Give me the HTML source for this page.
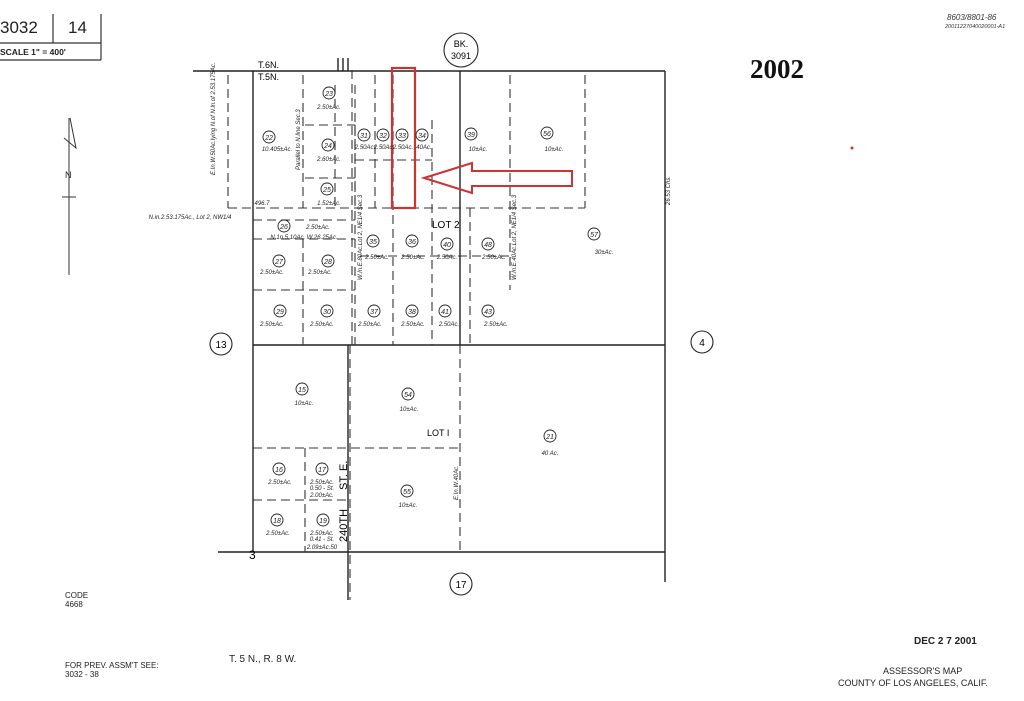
<!DOCTYPE html>
<html><head><meta charset="utf-8"><style>
html,body{margin:0;padding:0;background:#fff;}
svg{display:block;font-family:"Liberation Sans",sans-serif;}
.t{font-size:6px;font-style:italic;fill:#222;}
.c{font-size:7px;font-style:italic;fill:#222;}
</style></head><body>
<svg width="1024" height="701" viewBox="0 0 1024 701" xmlns="http://www.w3.org/2000/svg">
<rect width="1024" height="701" fill="#fff"/>
<g stroke="#333" stroke-width="1.2" fill="none">
<line x1="0" y1="43" x2="101" y2="43"/><line x1="101" y1="14" x2="101" y2="60"/>
<line x1="53" y1="14" x2="53" y2="43"/><line x1="0" y1="60" x2="101" y2="60"/>
</g>
<text x="0" y="33" font-size="17" fill="#222">3032</text>
<text x="68" y="33" font-size="17" fill="#222">14</text>
<text x="0" y="55" font-size="8.5" fill="#222" font-weight="bold">SCALE 1" =  400'</text>
<g stroke="#333" stroke-width="1" fill="none">
<line x1="69" y1="118" x2="69" y2="275"/><polyline points="70,118 76,148 64,138"/>
<line x1="62" y1="197" x2="76" y2="197"/>
</g>
<text x="65" y="178" font-size="9" fill="#222">N</text>
<text x="750" y="78" font-size="27" font-weight="bold" font-family="Liberation Serif" fill="#111">2002</text>
<text x="947" y="20" font-size="8" font-style="italic" fill="#333">8603/8801-86</text>
<text x="945" y="28" font-size="5.5" font-style="italic" fill="#333">20011227040020001-A1</text>
<circle cx="852" cy="148" r="1.5" fill="#c33"/>
<g stroke="#222" stroke-width="1.4" fill="none">
<line x1="193" y1="71" x2="665" y2="71"/>
<line x1="665" y1="71" x2="665" y2="582"/>
<line x1="253" y1="71" x2="253" y2="552"/>
<line x1="253" y1="345" x2="665" y2="345"/>
<line x1="218" y1="552" x2="665" y2="552"/>
<line x1="460" y1="71" x2="460" y2="345"/>
<line x1="338" y1="58" x2="338" y2="71"/><line x1="343" y1="58" x2="343" y2="71"/><line x1="348" y1="58" x2="348" y2="71"/>
<line x1="348" y1="345" x2="348" y2="600"/>
</g>
<g stroke="#333" stroke-width="1.1" fill="none" stroke-dasharray="9,5">
<line x1="228" y1="75" x2="228" y2="208"/>
<line x1="228" y1="208" x2="585" y2="208"/>
<line x1="585" y1="75" x2="585" y2="208"/>
<line x1="510" y1="75" x2="510" y2="290"/>
<line x1="303" y1="75" x2="303" y2="208"/>
<line x1="305" y1="125" x2="355" y2="125"/><line x1="305" y1="178" x2="355" y2="178"/>
<line x1="355" y1="125" x2="355" y2="208"/><line x1="335" y1="85" x2="335" y2="208"/>
<line x1="355" y1="85" x2="355" y2="345"/>
<line x1="375" y1="75" x2="375" y2="208"/>
<line x1="393" y1="75" x2="393" y2="345"/>
<line x1="432" y1="120" x2="432" y2="345"/>
<line x1="470" y1="208" x2="470" y2="345"/>
<line x1="355" y1="160" x2="432" y2="160"/>
<line x1="253" y1="220" x2="355" y2="220"/>
<line x1="253" y1="239" x2="355" y2="239"/>
<line x1="303" y1="239" x2="303" y2="345"/>
<line x1="253" y1="290" x2="355" y2="290"/>
<line x1="360" y1="256" x2="510" y2="256"/>
<line x1="352" y1="70" x2="352" y2="345"/>
<line x1="350" y1="345" x2="350" y2="600"/>
<line x1="460" y1="345" x2="460" y2="552"/>
<line x1="253" y1="448" x2="460" y2="448"/>
<line x1="253" y1="500" x2="350" y2="500"/>
<line x1="305" y1="448" x2="305" y2="552"/>
</g>
<rect x="392" y="68" width="23" height="140" fill="none" stroke="#c33" stroke-width="2.2"/>
<polygon points="424,178 472,163 472,171 572,171 572,186 472,186 472,193" fill="none" stroke="#c33" stroke-width="2"/>
<g fill="#fff" stroke="#222" stroke-width="1.1">
<circle cx="461" cy="50" r="17"/><circle cx="221" cy="344" r="11"/><circle cx="702" cy="342" r="11"/><circle cx="461" cy="584" r="11"/>
</g>
<text x="461" y="47" font-size="9" text-anchor="middle">BK.</text>
<text x="461" y="59" font-size="9" text-anchor="middle">3091</text>
<text x="221" y="348" font-size="10" text-anchor="middle">13</text>
<text x="702" y="346" font-size="10" text-anchor="middle">4</text>
<text x="461" y="588" font-size="10" text-anchor="middle">17</text>
<text x="258" y="68" font-size="9">T.6N.</text><text x="258" y="80" font-size="9">T.5N.</text>
<text x="432" y="228" font-size="10">LOT  2</text>
<text x="427" y="436" font-size="9">LOT I</text>
<text x="347" y="490" font-size="11" transform="rotate(-90 347 490)">ST. E.</text>
<text x="347" y="542" font-size="11" transform="rotate(-90 347 542)">240TH</text>
<g fill="none" stroke="#222" stroke-width="0.9">
<circle cx="329" cy="93" r="6"/><circle cx="269" cy="137" r="6"/><circle cx="328" cy="145" r="6"/><circle cx="327" cy="189" r="6"/>
<circle cx="364" cy="135" r="6"/><circle cx="383" cy="135" r="6"/><circle cx="402" cy="135" r="6"/><circle cx="422" cy="135" r="6"/>
<circle cx="471" cy="134" r="6"/><circle cx="547" cy="133" r="6"/><circle cx="284" cy="226" r="6"/><circle cx="373" cy="241" r="6"/>
<circle cx="412" cy="241" r="6"/><circle cx="447" cy="244" r="6"/><circle cx="488" cy="244" r="6"/><circle cx="594" cy="234" r="6"/>
<circle cx="279" cy="261" r="6"/><circle cx="328" cy="261" r="6"/><circle cx="280" cy="311" r="6"/><circle cx="327" cy="311" r="6"/>
<circle cx="374" cy="311" r="6"/><circle cx="412" cy="311" r="6"/><circle cx="445" cy="311" r="6"/><circle cx="488" cy="311" r="6"/>
<circle cx="302" cy="389" r="6"/><circle cx="408" cy="394" r="6"/><circle cx="550" cy="436" r="6"/><circle cx="279" cy="469" r="6"/>
<circle cx="322" cy="469" r="6"/><circle cx="277" cy="520" r="6"/><circle cx="323" cy="520" r="6"/><circle cx="407" cy="491" r="6"/>
</g>
<g class="c" text-anchor="middle">
<text x="329" y="96">23</text><text x="269" y="140">22</text><text x="328" y="148">24</text><text x="327" y="192">25</text>
<text x="364" y="138">31</text><text x="383" y="138">32</text><text x="402" y="138">33</text><text x="422" y="138">34</text>
<text x="471" y="137">39</text><text x="547" y="136">56</text><text x="284" y="229">26</text><text x="373" y="244">35</text>
<text x="412" y="244">36</text><text x="447" y="247">40</text><text x="488" y="247">48</text><text x="594" y="237">57</text>
<text x="279" y="264">27</text><text x="328" y="264">28</text><text x="280" y="314">29</text><text x="327" y="314">30</text>
<text x="374" y="314">37</text><text x="412" y="314">38</text><text x="445" y="314">41</text><text x="488" y="314">43</text>
<text x="302" y="392">15</text><text x="408" y="397">54</text><text x="550" y="439">21</text><text x="279" y="472">16</text>
<text x="322" y="472">17</text><text x="277" y="523">18</text><text x="323" y="523">19</text><text x="407" y="494">55</text>
</g>
<g class="t" text-anchor="middle">
<text x="329" y="109">2.50±Ac.</text><text x="277" y="151">10.405±Ac.</text><text x="329" y="161">2.60±Ac.</text><text x="329" y="205">1.52±Ac.</text>
<text x="365" y="149">2.50Ac.</text><text x="384" y="149">2.50Ac.</text><text x="403" y="149">2.50Ac.</text><text x="423" y="149">.40Ac.</text>
<text x="478" y="151">10±Ac.</text><text x="554" y="151">10±Ac.</text><text x="318" y="229">2.50±Ac.</text><text x="304" y="239">N.1n.5.10Ac. W.26.25Ac.</text>
<text x="377" y="259">2.50±Ac.</text><text x="413" y="259">2.50±Ac.</text><text x="447" y="259">2.50Ac.</text><text x="494" y="259">2.50±Ac.</text>
<text x="604" y="254">30±Ac.</text><text x="272" y="274">2.50±Ac.</text><text x="320" y="274">2.50±Ac.</text>
<text x="272" y="326">2.50±Ac.</text><text x="322" y="326">2.50±Ac.</text><text x="370" y="326">2.50±Ac.</text><text x="413" y="326">2.50±Ac.</text>
<text x="449" y="326">2.50Ac.</text><text x="496" y="326">2.50±Ac.</text><text x="304" y="405">10±Ac.</text><text x="409" y="411">10±Ac.</text>
<text x="550" y="455">40 Ac.</text><text x="280" y="484">2.50±Ac.</text><text x="322" y="484">2.50±Ac.</text><text x="322" y="490">0.50 - St.</text><text x="322" y="497">2.00±Ac.</text>
<text x="278" y="535">2.50±Ac.</text><text x="322" y="535">2.50±Ac.</text><text x="322" y="541">0.41 - St.</text><text x="322" y="549">2.09±Ac.50</text><text x="408" y="507">10±Ac.</text>
<text x="190" y="219">N.in.2.53.175Ac., Lot 2, NW1/4</text><text x="262" y="205">496.7</text>
</g>
<text x="670" y="205" class="t" transform="rotate(-90 670 205)">26.53 Chs.</text>
<text x="215" y="175" class="t" transform="rotate(-90 215 175)">E.In.W.50Ac.lying N.of N.ln.of 2.53.175Ac.</text>
<text x="300" y="170" class="t" transform="rotate(-90 300 170)">Parallel to N.line Sec.3</text>
<text x="362" y="280" class="t" transform="rotate(-90 362 280)">W.In.E.80Ac.Lot 2, NE1/4 Sec.3</text>
<text x="516" y="280" class="t" transform="rotate(-90 516 280)">W.In.E.40Ac.Lot 2, NE1/4 Sec.3</text>
<text x="458" y="500" class="t" transform="rotate(-90 458 500)">E.In.W.40Ac.</text>
<text x="249" y="559" font-size="12">3</text>
<text x="65" y="598" font-size="8" fill="#222">CODE</text><text x="65" y="607" font-size="8" fill="#222">4668</text>
<text x="65" y="668" font-size="8" fill="#222">FOR PREV. ASSM'T SEE:</text><text x="65" y="677" font-size="8" fill="#222">3032 - 38</text>
<text x="229" y="662" font-size="10" fill="#222">T. 5 N., R. 8 W.</text>
<text x="914" y="644" font-size="10" font-weight="bold" fill="#222">DEC 2 7 2001</text>
<text x="883" y="674" font-size="9" fill="#222">ASSESSOR'S MAP</text>
<text x="838" y="686" font-size="9" fill="#222">COUNTY OF LOS ANGELES, CALIF.</text>
</svg>
</body></html>
